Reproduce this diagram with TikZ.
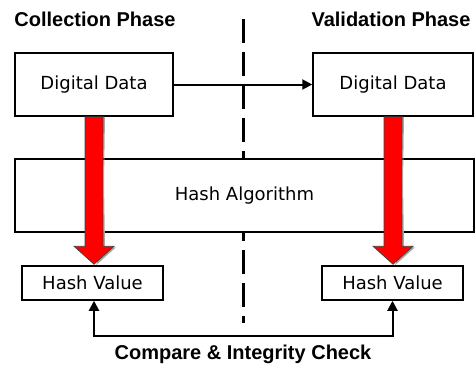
\documentclass[tikz,border=0pt]{standalone}
\usepackage{fontspec}
\setmainfont{DejaVu Sans}
\newfontfamily\titlefont{Liberation Sans}
\usetikzlibrary{calc,arrows.meta}
\begin{document}
\begin{tikzpicture}[x=1pt,y=-1pt,
  box/.style={draw,line width=1.5pt,fill=white,inner sep=0pt,font=\fontsize{18}{20}\selectfont},
  title/.style={font=\titlefont\bfseries\fontsize{20}{22}\selectfont,inner sep=0pt,anchor=base},
  flow/.style={line width=2pt,-{Triangle[length=10pt,width=10pt]}},
  flowboth/.style={line width=2pt,{Triangle[length=10pt,width=10pt]}-{Triangle[length=10pt,width=10pt]}},
  redarrow/.style={fill=red,draw=black!75,line width=0.7pt,line join=miter},
  shadowarrow/.style={fill=black!35,draw=none},
  divider/.style={line width=3pt,dash pattern=on 24pt off 9pt}]
\useasboundingbox (0,0) rectangle (476,364);
\coordinate (dtop) at (243,19);
\coordinate (dbot) at (243,323);
\draw[divider] (dtop) -- (dbot);
\node[title] (t1) at (95,27) {Collection Phase};
\node[title] (t2) at (391,27) {Validation Phase};
\node[box,minimum width=158pt,minimum height=63pt] (ldd) at (94,84.5) {Digital Data};
\node[box,minimum width=160pt,minimum height=63pt] (rdd) at (393,84.5) {Digital Data};
\node[box,minimum width=459pt,minimum height=73pt] (ha) at (244.5,195.5) {Hash Algorithm};
\node[box,minimum width=141pt,minimum height=34pt] (lhv) at (92.5,283) {Hash Value};
\node[box,minimum width=141pt,minimum height=34pt] (rhv) at (392.5,283) {Hash Value};
\draw[flow] (ldd.east) -- (rdd.west);
\foreach \a/\b in {ldd/lhv,rdd/rhv}{
  \coordinate (tip) at ($(\a.south |- \b.north)+(0,-1)$);
  \fill[shadowarrow] ($(\a.south)+(9,0)$) -- ($(tip)+(11,-17)$) -- ($(tip)+(22,-17)$) -- ($(tip)+(2,1)$) -- ($(tip)+(9,-17)$) -- ($(\a.south)+(11,0)$) -- cycle;
  \draw[redarrow] ($(\a.south)+(-9,0)$) -- ($(tip)+(-9,-18)$) -- ($(tip)+(-20,-18)$) -- (tip) -- ($(tip)+(20,-18)$) -- ($(tip)+(9,-18)$) -- ($(\a.south)+(9,0)$) -- cycle;
}
\draw[flowboth] (ldd.south |- lhv.south) -- ++(0,35) -| (rhv.south);
\node[title] (cmp) at (243,359) {Compare \& Integrity Check};
\end{tikzpicture}
\end{document}
